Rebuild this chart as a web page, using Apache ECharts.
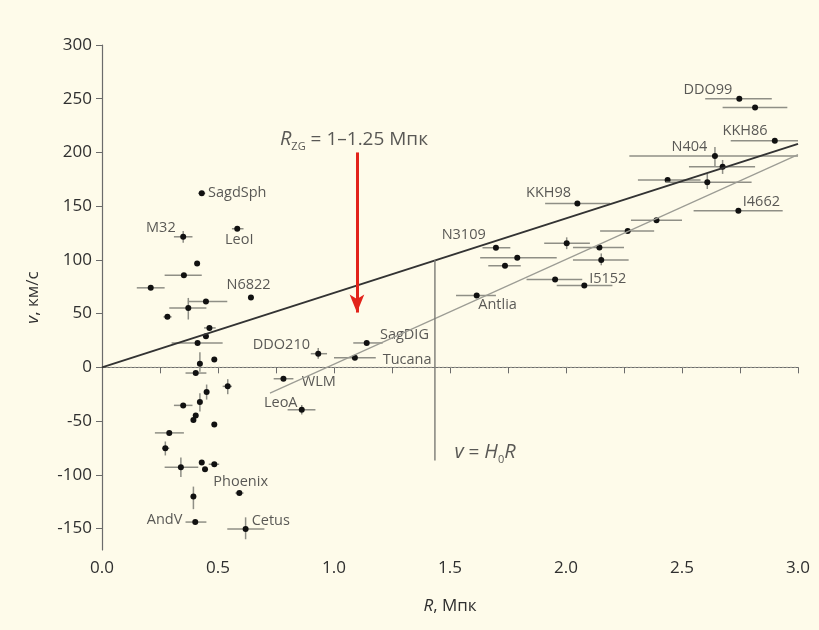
<!DOCTYPE html>
<html>
<head>
<meta charset="utf-8">
<script src="https://cdn.jsdelivr.net/npm/echarts@6/dist/echarts.min.js"></script>
<style>
  html, body { margin: 0; padding: 0; background: #fefbea; }
  #chart { width: 819px; height: 630px; }
</style>
</head>
<body>
<div id="chart"></div>
<script>
// galaxies: distance R (Mpc), velocity v (km/s), error bar ends (null = no bar)
const galR = [0.43, 0.35, 0.583, 0.41, 0.353, 0.21, 0.642, 0.448, 0.372, 0.282, 0.463, 0.448, 0.412, 0.484, 0.422,
  0.404, 0.542, 0.451, 0.422, 0.35, 0.404, 0.394, 0.484, 0.29, 0.273, 0.43, 0.34, 0.444, 0.484, 0.592, 0.394, 0.402, 0.619,
  0.932, 1.141, 1.09, 0.782, 0.861,
  1.615, 1.698, 1.79, 1.737, 2.003, 2.144, 2.152, 1.953, 2.079, 2.266, 2.39, 2.049, 2.438, 2.609, 2.743, 2.642, 2.675, 2.90, 2.747, 2.815]
const galV = [162, 121.5, 129, 96.7, 85.8, 74, 65, 61.2, 55.3, 47, 36.7, 28.9, 22.7, 7.2, 3.4,
  -5.3, -17.7, -23, -32.3, -35.4, -44.8, -48.9, -53.2, -61, -75.3, -88.6, -93, -94.9, -90.2, -117, -120.3, -144, -150.5,
  12.7, 22.7, 9, -10.6, -39.5,
  66.8, 111.3, 102, 94.5, 115.4, 111.6, 100, 81.7, 76.1, 126.9, 137, 152.6, 174.4, 172.2, 145.8, 196.8, 186.8, 210.8, 250, 241.9]
const rLo = [0.415, 0.31, 0.56, null, 0.27, 0.15, null, 0.37, 0.29, 0.265, 0.44, null, 0.30, null, null,
  0.36, 0.52, null, null, 0.31, null, null, null, 0.228, 0.26, null, 0.27, null, 0.46, 0.575, null, 0.36, 0.54,
  0.90, 1.083, 1.0, 0.74, 0.80,
  1.526, 1.64, 1.63, 1.665, 1.906, 2.03, 2.03, 1.83, 1.96, 2.147, 2.28, 1.91, 2.31, 2.43, 2.55, 2.273, 2.53, 2.71, 2.60, 2.675]
const rHi = [0.445, 0.39, 0.61, null, 0.43, 0.27, null, 0.54, 0.45, 0.30, 0.49, null, 0.52, null, null,
  0.45, 0.56, null, null, 0.39, null, null, null, 0.353, 0.29, null, 0.415, null, 0.505, 0.61, null, 0.45, 0.70,
  0.97, 1.21, 1.18, 0.825, 0.92,
  1.698, 1.76, 1.96, 1.805, 2.103, 2.25, 2.27, 2.07, 2.20, 2.38, 2.50, 2.19, 2.58, 2.80, 2.934, 3.0, 2.815, 3.0, 2.887, 2.954]
const vLo = [null, 116, null, null, null, null, null, null, 44.5, null, null, null, null, null, -4,
  null, -25, -30, -41, null, null, null, null, null, -82, null, -102, null, null, null, -132, null, -160,
  8, null, null, null, -44,
  null, null, null, null, 110, null, 95, null, null, null, null, null, null, 166, null, 187, 180, null, null, null]
const vHi = [null, 127, null, null, null, null, null, null, 64.6, null, null, null, null, null, 14,
  null, -11, -16, -24, null, null, null, null, null, -69, null, -84, null, null, null, -111, null, -139.6,
  18, null, null, null, -35,
  null, null, null, null, 121, null, 106, null, null, null, null, null, null, 180, null, 205, 193, null, null, null]

// galaxy name labels (left edge of text, in data coordinates)
const labelNames = ['SagdSph', 'M32', 'LeoI', 'N6822', 'DDO210', 'SagDIG', 'Tucana', 'WLM', 'LeoA', 'Phoenix',
  'AndV', 'Cetus', 'Antlia', 'I5152', 'N3109', 'KKH98', 'DDO99', 'KKH86', 'N404', 'I4662']
const labelR = [0.457, 0.190, 0.530, 0.537, 0.650, 1.198, 1.210, 0.861, 0.698, 0.480,
  0.193, 0.645, 1.622, 2.100, 1.464, 1.828, 2.506, 2.675, 2.455, 2.762]
const labelV = [162.3, 130.1, 118.5, 76.5, 20.5, 29.8, 7.2, -13.7, -33.3, -106.9,
  -141.8, -142.9, 58.5, 82.7, 123.1, 162.0, 258.4, 219.9, 205.5, 154.2]

// reference lines
const darkLineR = [0, 3.0]
const darkLineV = [0, 208]
const lightLineR = [0.724, 3.0]
const lightLineV = [-24, 198]
const vertLineR = [1.435, 1.435]
const vertLineV = [99.8, -86.8]
const arrowR = 1.099
const arrowV = [200, 51]

const yTicks = [-150, -100, -50, 0, 50, 100, 150, 200, 250, 300]
const xLabels = [0, 0.5, 1.0, 1.5, 2.0, 2.5, 3.0]

const textColor = '#2f2f2f'
const font = 'Open Sans'

const pts = galR.map((r, i) => [r, galV[i], rLo[i], rHi[i], vLo[i], vHi[i]])
const labels = labelNames.map((n, i) => ({ name: n, value: [labelR[i], labelV[i]] }))

const chart = echarts.init(document.getElementById('chart'))
chart.setOption({
  backgroundColor: '#fefbea',
  animation: false,
  textStyle: { fontFamily: font },
  grid: { left: 102, right: 21, top: 45, bottom: 80 },
  xAxis: {
    type: 'value',
    min: 0,
    max: 3,
    interval: 0.25,
    name: '{i|R}, Мпк',
    nameLocation: 'middle',
    nameGap: 48,
    nameTextStyle: { color: textColor, fontSize: 17, rich: { i: { fontStyle: 'italic', fontSize: 17, color: textColor } } },
    axisLine: { lineStyle: { color: '#6b6b6b', width: 1.2 } },
    axisTick: { length: 6, lineStyle: { color: '#6b6b6b' } },
    axisLabel: {
      customValues: xLabels,
      formatter: v => v.toFixed(1),
      color: textColor,
      fontSize: 17,
      margin: 10
    },
    splitLine: { show: false }
  },
  yAxis: {
    type: 'value',
    min: -170,
    max: 300,
    name: '{i|v}, км/с',
    nameLocation: 'middle',
    nameGap: 60,
    nameTextStyle: { color: textColor, fontSize: 17, rich: { i: { fontStyle: 'italic', fontSize: 17, color: textColor } } },
    axisLine: { show: true, lineStyle: { color: '#6b6b6b', width: 1.2 } },
    axisTick: { show: true, length: 6, customValues: yTicks, lineStyle: { color: '#6b6b6b' } },
    axisLabel: { customValues: yTicks, color: textColor, fontSize: 17, margin: 10 },
    splitLine: { show: false }
  },
  series: [
    {
      type: 'line',
      data: [[0, 0], [3, 0]],
      symbol: 'none',
      silent: true,
      lineStyle: { color: '#9a9a90', width: 1, type: [2, 2] }
    },
    {
      type: 'line',
      data: darkLineR.map((r, i) => [r, darkLineV[i]]),
      symbol: 'none',
      silent: true,
      lineStyle: { color: '#333', width: 2 }
    },
    {
      type: 'line',
      data: lightLineR.map((r, i) => [r, lightLineV[i]]),
      symbol: 'none',
      silent: true,
      lineStyle: { color: '#9c9c94', width: 1.2 }
    },
    {
      type: 'line',
      data: vertLineR.map((r, i) => [r, vertLineV[i]]),
      symbol: 'none',
      silent: true,
      lineStyle: { color: '#7a7a74', width: 1.4 }
    },
    {
      type: 'custom',
      silent: true,
      data: pts,
      renderItem: function (params, api) {
        const c = api.coord([api.value(0), api.value(1)])
        const children = []
        const barStyle = { stroke: '#8f8f86', lineWidth: 1.5 }
        if (pts[params.dataIndex][2] != null) {
          const a = api.coord([api.value(2), api.value(1)])
          const b = api.coord([api.value(3), api.value(1)])
          children.push({ type: 'line', shape: { x1: a[0], y1: c[1], x2: b[0], y2: c[1] }, style: barStyle })
        }
        if (pts[params.dataIndex][4] != null) {
          const a = api.coord([api.value(0), api.value(4)])
          const b = api.coord([api.value(0), api.value(5)])
          children.push({ type: 'line', shape: { x1: c[0], y1: a[1], x2: c[0], y2: b[1] }, style: barStyle })
        }
        children.push({ type: 'circle', shape: { cx: c[0], cy: c[1], r: 3 }, style: { fill: '#111' } })
        return { type: 'group', children: children }
      }
    },
    {
      type: 'scatter',
      data: labels,
      symbolSize: 0,
      silent: true,
      label: {
        show: true,
        position: 'right',
        distance: 0,
        formatter: p => p.name,
        color: textColor,
        fontSize: 14.5
      }
    },
    {
      type: 'scatter',
      data: [{ name: 'rzg', value: [1.086, 211.8] }, { name: 'h0', value: [1.651, -79.3] }],
      symbolSize: 0,
      silent: true,
      label: {
        show: true,
        position: 'inside',
        color: textColor,
        fontSize: 19,
        formatter: p => p.name === 'rzg'
          ? '{i|R}{s|ZG}{n| = 1–1.25 Мпк}'
          : '{i|v}{n| = }{i|H}{s|0}{i|R}',
        rich: {
          i: { fontStyle: 'italic', fontSize: 20, color: textColor, lineHeight: 26 },
          n: { fontSize: 19, color: textColor, lineHeight: 26 },
          s: { fontSize: 11, color: textColor, verticalAlign: 'bottom', lineHeight: 15 }
        }
      }
    },
    {
      type: 'line',
      data: [],
      silent: true,
      markLine: {
        silent: true,
        symbol: ['none', 'arrow'],
        symbolSize: [11, 18],
        label: { show: false },
        lineStyle: { color: '#e2231a', width: 3, type: 'solid' },
        data: [[{ coord: [arrowR, arrowV[0]] }, { coord: [arrowR, arrowV[1]] }]]
      }
    }
  ]
})
</script>
</body>
</html>
